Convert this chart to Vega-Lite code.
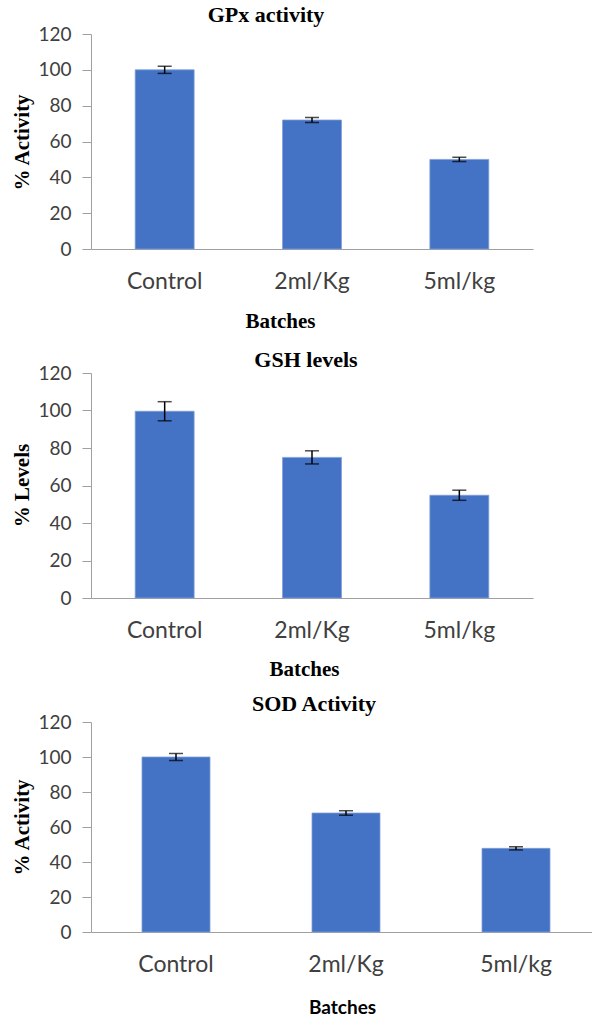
{
  "$schema": "https://vega.github.io/schema/vega-lite/v6.json",
  "background": "white",
  "padding": {"left": 11, "top": 4, "right": 0, "bottom": 0},
  "bounds": "flush",
  "spacing": 124,
  "data": {"values": [
    {"panel": "GPx", "batch": "Control", "value": 100, "err": 2},
    {"panel": "GPx", "batch": "2ml/Kg", "value": 72, "err": 1.4},
    {"panel": "GPx", "batch": "5ml/kg", "value": 50, "err": 1.2},
    {"panel": "GSH", "batch": "Control", "value": 99.6, "err": 5.1},
    {"panel": "GSH", "batch": "2ml/Kg", "value": 75, "err": 3.5},
    {"panel": "GSH", "batch": "5ml/kg", "value": 54.8, "err": 2.7},
    {"panel": "SOD", "batch": "Control", "value": 100, "err": 2},
    {"panel": "SOD", "batch": "2ml/Kg", "value": 68, "err": 1.3},
    {"panel": "SOD", "batch": "5ml/kg", "value": 47.8, "err": 0.9}
  ]},
  "config": {
    "view": {"stroke": null},
    "axis": {
      "domainColor": "#a0a0a0",
      "tickColor": "#a0a0a0",
      "grid": false,
      "labelFont": "Lato",
      "labelColor": "#404040",
      "titleColor": "#000000",
      "titleFont": "Liberation Serif",
      "titleFontWeight": "bold",
      "titleFontSize": 21
    },
    "title": {"font": "Liberation Serif", "fontWeight": "bold", "fontSize": 22, "color": "#000000", "frame": "group", "anchor": "middle", "baseline": "alphabetic"}
  },
  "vconcat": [
    {
      "width": 442, "height": 215,
      "title": {"text": "GPx activity", "dx": -46, "offset": -2},
      "transform": [{"filter": "datum.panel == 'GPx'"}],
      "encoding": {
        "x": {"field": "batch", "type": "nominal", "sort": ["Control", "2ml/Kg", "5ml/kg"],
          "scale": {"paddingInner": 0.6, "paddingOuter": 0.3},
          "axis": {"title": "Batches", "labelAngle": 0, "ticks": false, "tickSize": 0, "labelFontSize": 23, "labelPadding": 32, "labelBaseline": "middle", "titleX": 189, "titleY": 72, "titleBaseline": "middle"}},
        "y": {"field": "value", "type": "quantitative", "scale": {"domain": [0, 120]},
          "axis": {"title": "% Activity", "values": [0, 20, 40, 60, 80, 100, 120], "tickSize": 9, "labelFontSize": 19, "labelPadding": 11, "titleX": -69, "titleY": 108, "titleBaseline": "middle", "titleAngle": 270}}
      },
      "layer": [
        {"mark": {"type": "bar", "color": "#4472C4", "stroke": "#7f9fd8", "strokeWidth": 0.8}},
        {"mark": {"type": "errorbar", "ticks": {"size": 14, "thickness": 1.5, "color": "#000000"}, "thickness": 1.5, "color": "#000000"},
          "encoding": {"yError": {"field": "err"}}}
      ]
    },
    {
      "width": 442, "height": 225,
      "title": {"text": "GSH levels", "dx": -6, "offset": -8},
      "transform": [{"filter": "datum.panel == 'GSH'"}],
      "encoding": {
        "x": {"field": "batch", "type": "nominal", "sort": ["Control", "2ml/Kg", "5ml/kg"],
          "scale": {"paddingInner": 0.6, "paddingOuter": 0.3},
          "axis": {"title": "Batches", "labelAngle": 0, "ticks": false, "tickSize": 0, "labelFontSize": 23, "labelPadding": 32, "labelBaseline": "middle", "titleX": 213, "titleY": 71, "titleBaseline": "middle"}},
        "y": {"field": "value", "type": "quantitative", "scale": {"domain": [0, 120]},
          "axis": {"title": "% Levels", "values": [0, 20, 40, 60, 80, 100, 120], "tickSize": 9, "labelFontSize": 19, "labelPadding": 11, "titleX": -69, "titleY": 112, "titleBaseline": "middle", "titleAngle": 270}}
      },
      "layer": [
        {"mark": {"type": "bar", "color": "#4472C4", "stroke": "#7f9fd8", "strokeWidth": 0.8}},
        {"mark": {"type": "errorbar", "ticks": {"size": 14, "thickness": 1.5, "color": "#000000"}, "thickness": 1.5, "color": "#000000"},
          "encoding": {"yError": {"field": "err"}}}
      ]
    },
    {
      "width": 510, "height": 210,
      "title": {"text": "SOD Activity", "dx": -32, "offset": -3},
      "transform": [{"filter": "datum.panel == 'SOD'"}],
      "encoding": {
        "x": {"field": "batch", "type": "nominal", "sort": ["Control", "2ml/Kg", "5ml/kg"],
          "scale": {"paddingInner": 0.6, "paddingOuter": 0.3},
          "axis": {"title": "Batches", "titleFont": "Lato", "titleFontWeight": "bold", "titleFontSize": 19, "labelAngle": 0, "ticks": false, "tickSize": 0, "labelFontSize": 23, "labelPadding": 32, "labelBaseline": "middle", "titleX": 251, "titleY": 75, "titleBaseline": "middle"}},
        "y": {"field": "value", "type": "quantitative", "scale": {"domain": [0, 120]},
          "axis": {"title": "% Activity", "values": [0, 20, 40, 60, 80, 100, 120], "tickSize": 9, "labelFontSize": 19, "labelPadding": 11, "titleX": -69, "titleY": 105, "titleBaseline": "middle", "titleAngle": 270}}
      },
      "layer": [
        {"mark": {"type": "bar", "color": "#4472C4", "stroke": "#7f9fd8", "strokeWidth": 0.8}},
        {"mark": {"type": "errorbar", "ticks": {"size": 14, "thickness": 1.5, "color": "#000000"}, "thickness": 1.5, "color": "#000000"},
          "encoding": {"yError": {"field": "err"}}}
      ]
    }
  ]
}
